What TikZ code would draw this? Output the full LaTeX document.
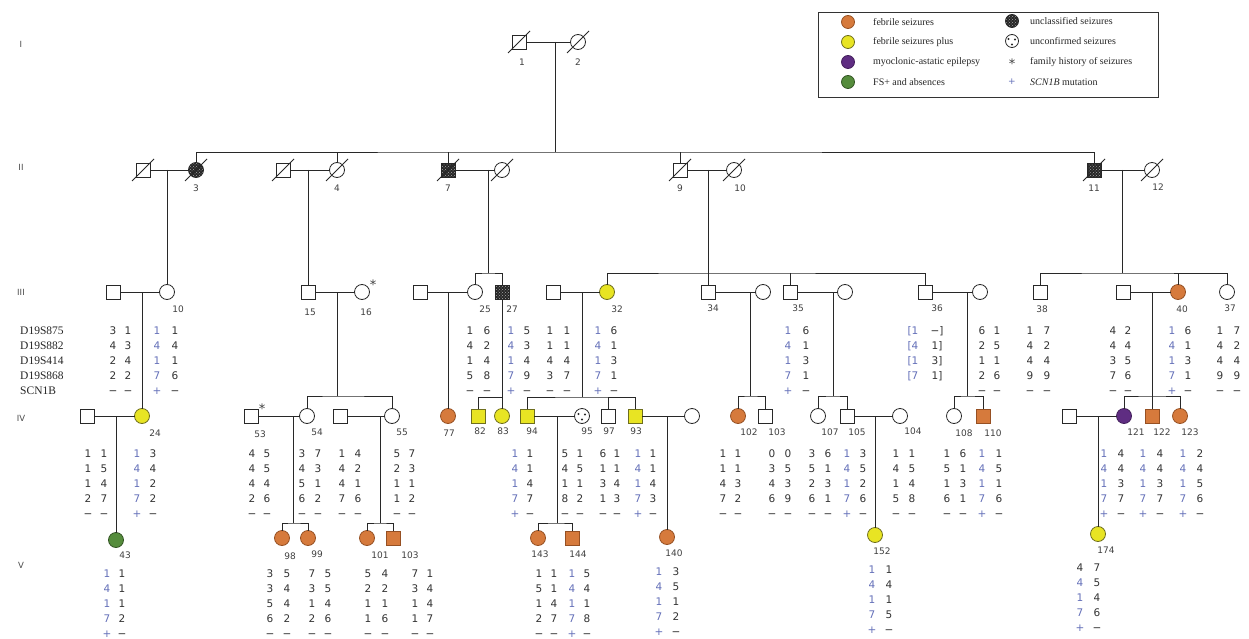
\documentclass[tikz,border=0pt]{standalone}
\usepackage{fontspec}
\setmainfont{Liberation Serif}
\newfontfamily\hapfont{DejaVu Sans}
\usetikzlibrary{patterns}
\definecolor{fsor}{RGB}{214,122,60}
\definecolor{fsord}{RGB}{150,80,35}
\definecolor{fspy}{RGB}{232,228,35}
\definecolor{fspyd}{RGB}{110,110,30}
\definecolor{maep}{RGB}{95,45,130}
\definecolor{fsag}{RGB}{85,140,60}
\definecolor{hapblue}{RGB}{100,112,185}
\definecolor{ink}{RGB}{40,40,40}
\newcommand\hc[5]{\foreach \v [count=\i] in {#5} {\node[#4] (#1-\i) at (#2,{#3+15*(\i-1)}) {\v};}}
\newcommand\dead[1]{\draw[lk] ([shift={(-11,11)}]#1.center) -- ([shift={(11,-11)}]#1.center);}
\begin{document}
\begin{tikzpicture}[x=1pt,y=-1pt,
  lk/.style={draw=ink, line width=0.8pt},
  ind/.style={draw=ink, line width=0.8pt, inner sep=0pt, outer sep=0pt, fill=white},
  male/.style={ind, rectangle, minimum size=14pt},
  female/.style={ind, circle, minimum size=15pt},
  fs/.style={fill=fsor, draw=fsord},
  fsp/.style={fill=fspy, draw=fspyd},
  mae/.style={fill=maep, draw=maep!70!black},
  fsab/.style={fill=fsag, draw=fsag!60!black},
  uncl/.style={preaction={fill=black!85}, pattern=crosshatch dots, pattern color=black!35},
  hap/.style={font=\hapfont\fontsize{10.5}{12}\selectfont, text=black!80, anchor=base, inner sep=0pt},
  hb/.style={hap, text=hapblue},
  idl/.style={font=\hapfont\fontsize{9}{11}\selectfont, text=black!75, anchor=base, inner sep=0pt},
  gen/.style={font=\hapfont\fontsize{8.5}{10}\selectfont, text=black!70, anchor=base, inner sep=0pt},
  mk/.style={font=\fontsize{11.5}{13}\selectfont, text=black!85, anchor=base west, inner sep=0pt},
  lt/.style={font=\fontsize{10}{12}\selectfont, text=black!85, anchor=west, inner sep=0pt},
  ast/.style={font=\hapfont\fontsize{13}{14}\selectfont, text=black!75, inner sep=0pt}]
\fill[white] (0,0) rectangle (1249,639);
\useasboundingbox (0,0) rectangle (1249,639);

% ---------- legend ----------
\node[draw=black!80, line width=0.9pt, minimum width=340pt, minimum height=85pt, inner sep=0pt] (legend) at (988,54.5) {};
\node[female, fs, minimum size=13pt] (L1) at (848,22) {};
\node[female, fsp, minimum size=13pt] (L2) at (848,42) {};
\node[female, mae, minimum size=13pt] (L3) at (848,62) {};
\node[female, fsab, minimum size=13pt] (L4) at (848,82) {};
\node[lt] (Lt1) at (873,22) {febrile seizures};
\node[lt] (Lt2) at (873,42) {febrile seizures plus};
\node[lt] (Lt3) at (873,62) {myoclonic-astatic epilepsy};
\node[lt] (Lt4) at (873,82) {FS+ and absences};
\node[female, uncl, minimum size=13pt] (L5) at (1012,21) {};
\node[female, minimum size=13pt] (L6) at (1012,41) {};
\fill[ink] (1008.5,39) circle (1.2) (1015,39.5) circle (1.2) (1012,44.5) circle (1.2);
\node[ast] (L7) at (1012,64) {*};
\node[font=\hapfont\fontsize{9}{10}\selectfont, text=hapblue, inner sep=0pt] (L8) at (1012,82) {+};
\node[lt] (Lt5) at (1030,21) {unclassified seizures};
\node[lt] (Lt6) at (1030,41) {unconfirmed seizures};
\node[lt] (Lt7) at (1030,62) {family history of seizures};
\node[lt] (Lt8) at (1030,82) {\textit{SCN1B} mutation};

% ---------- generation labels ----------
\node[gen] (gI) at (21,48) {I};
\node[gen] (gII) at (21,171) {II};
\node[gen] (gIII) at (21,295) {III};
\node[gen] (gIV) at (21,421) {IV};
\node[gen] (gV) at (21,568) {V};

% ---------- marker names ----------
\node[mk] (mk1) at (20,334) {D19S875};
\node[mk] (mk2) at (20,349) {D19S882};
\node[mk] (mk3) at (20,364) {D19S414};
\node[mk] (mk4) at (20,379) {D19S868};
\node[mk] (mk5) at (20,394) {SCN1B};

% ---------- generation I ----------
\node[male] (I1) at (519,42) {};
\node[female] (I2) at (578,42) {};
\dead{I1} \dead{I2}
\draw[lk] (I1) -- (I2);
\node[idl] (n1) at (522,66) {1};
\node[idl] (n2) at (578,66) {2};
\coordinate (m0) at (555,42);
\coordinate (s0) at (555,152);
\draw[lk] (m0) -- (s0);

% ---------- generation II ----------
\node[male] (IIa) at (143,170) {};
\node[female, uncl] (II3) at (196,170) {};
\node[male] (IIb) at (283,170) {};
\node[female] (II4) at (337,170) {};
\node[male, uncl] (II7) at (448,170) {};
\node[female] (IIc) at (502,170) {};
\node[male] (II9) at (680,170) {};
\node[female] (II10) at (734,170) {};
\node[male, uncl] (II11) at (1094,170) {};
\node[female] (II12) at (1152,170) {};
\foreach \n in {IIa,II3,IIb,II4,II7,IIc,II9,II10,II11,II12} {\dead{\n}}
\draw[lk] (IIa) -- (II3);
\draw[lk] (IIb) -- (II4);
\draw[lk] (II7) -- (IIc);
\draw[lk] (II9) -- (II10);
\draw[lk] (II11) -- (II12);
\draw[lk] (II3.north) |- (s0) -| (II11.north);
\foreach \n in {II4,II7,II9} {\draw[lk] (\n.north) -- (\n.north |- s0);}
\node[idl] (n3) at (196,192) {3};
\node[idl] (n4) at (337,192) {4};
\node[idl] (n7) at (448,192) {7};
\node[idl] (n9) at (680,192) {9};
\node[idl] (n10) at (740,192) {10};
\node[idl] (n11) at (1094,192) {11};
\node[idl] (n12) at (1158,190) {12};

% ---------- generation III ----------
\node[male] (IIIa) at (113,292) {};
\node[female] (III10) at (167,292) {};
\node[male] (III15) at (308,292) {};
\node[female] (III16) at (362,292) {};
\node[ast] (a16) at (373,285) {*};
\node[male] (IIIb) at (420,292) {};
\node[female] (III25) at (475,292) {};
\node[male, uncl] (III27) at (502,292) {};
\node[male] (IIIc) at (553,292) {};
\node[female, fsp] (III32) at (607,292) {};
\node[male] (III34) at (708,292) {};
\node[female] (IIId) at (763,292) {};
\node[male] (III35) at (790,292) {};
\node[female] (IIIe) at (845,292) {};
\node[male] (III36) at (925,292) {};
\node[female] (IIIf) at (980,292) {};
\node[male] (III38) at (1040,292) {};
\node[male] (IIIg) at (1123,292) {};
\node[female, fs] (III40) at (1178,292) {};
\node[female] (III37) at (1227,292) {};

\coordinate (m3) at (167,170);
\draw[lk] (m3) -- (III10.north);
\coordinate (m4) at (308,170);
\draw[lk] (m4) -- (III15.north);
\coordinate (m7) at (488,170);
\coordinate (s7) at (488,273);
\draw[lk] (m7) -- (s7);
\draw[lk] (III25.north) |- (s7) -| (III27.north);
\coordinate (m9) at (708,170);
\coordinate (s9) at (708,273);
\draw[lk] (m9) -- (III34.north);
\draw[lk] (III32.north) |- (s9) -| (III36.north);
\draw[lk] (III35.north) -- (III35.north |- s9);
\coordinate (m11) at (1122,170);
\coordinate (s11) at (1122,273);
\draw[lk] (m11) -- (s11);
\draw[lk] (III38.north) |- (s11) -| (III37.north);
\draw[lk] (III40.north) -- (III40.north |- s11);

\draw[lk] (IIIa) -- (III10);
\draw[lk] (III15) -- (III16);
\draw[lk] (IIIb) -- (III25);
\draw[lk] (IIIc) -- (III32);
\draw[lk] (III34) -- (IIId);
\draw[lk] (III35) -- (IIIe);
\draw[lk] (III36) -- (IIIf);
\draw[lk] (IIIg) -- (III40);

\node[idl] (n10b) at (178,312) {10};
\node[idl] (n15) at (310,315) {15};
\node[idl] (n16) at (366,315) {16};
\node[idl] (n25) at (485,312) {25};
\node[idl] (n27) at (512,312) {27};
\node[idl] (n32) at (617,312) {32};
\node[idl] (n34) at (713,311) {34};
\node[idl] (n35) at (798,311) {35};
\node[idl] (n36) at (937,311) {36};
\node[idl] (n38) at (1042,312) {38};
\node[idl] (n40) at (1182,312) {40};
\node[idl] (n37) at (1230,311) {37};

% haplotypes III
\hc{hIIIa1}{113}{334}{hap}{3,4,2,2,−}
\hc{hIIIa2}{128}{334}{hap}{1,3,4,2,−}
\hc{h10a}{157}{334}{hb}{1,4,1,7,+}
\hc{h10b}{175}{334}{hap}{1,4,1,6,−}
\hc{h25a}{470}{334}{hap}{1,4,1,5,−}
\hc{h25b}{487}{334}{hap}{6,2,4,8,−}
\hc{h27a}{511}{334}{hb}{1,4,1,7,+}
\hc{h27b}{527}{334}{hap}{5,3,4,9,−}
\hc{hIIIc1}{550}{334}{hap}{1,1,4,3,−}
\hc{hIIIc2}{567}{334}{hap}{1,1,4,7,−}
\hc{h32a}{598}{334}{hb}{1,4,1,7,+}
\hc{h32b}{614}{334}{hap}{6,1,3,1,−}
\hc{h35a}{788}{334}{hb}{1,4,1,7,+}
\hc{h35b}{806}{334}{hap}{6,1,3,1,−}
\hc{h36a}{913}{334}{hb}{{[1},{[4},{[1},{[7}}
\hc{h36b}{937}{334}{hap}{{−]},{1]},{3]},{1]}}
\hc{hIIIf1}{982}{334}{hap}{6,2,1,2,−}
\hc{hIIIf2}{997}{334}{hap}{1,5,1,6,−}
\hc{h38a}{1030}{334}{hap}{1,4,4,9,−}
\hc{h38b}{1047}{334}{hap}{7,2,4,9,−}
\hc{hIIIg1}{1113}{334}{hap}{4,4,3,7,−}
\hc{hIIIg2}{1128}{334}{hap}{2,4,5,6,−}
\hc{h40a}{1172}{334}{hb}{1,4,1,7,+}
\hc{h40b}{1188}{334}{hap}{6,1,3,1,−}
\hc{h37a}{1220}{334}{hap}{1,4,4,9,−}
\hc{h37b}{1237}{334}{hap}{7,2,4,9,−}

% ---------- generation IV ----------
\node[male] (IVa) at (87,416) {};
\node[female, fsp] (IV24) at (142,416) {};
\node[male] (IV53) at (251,416) {};
\node[ast] (a53) at (262,409) {*};
\node[female] (IV54) at (307,416) {};
\node[male] (IVb) at (340,416) {};
\node[female] (IV55) at (392,416) {};
\node[female, fs] (IV77) at (448,416) {};
\node[male, fsp] (IV82) at (478,416) {};
\node[female, fsp] (IV83) at (502,416) {};
\node[male, fsp] (IV94) at (527,416) {};
\node[female] (IV95) at (582,416) {};
\fill[ink] (578.5,414) circle (1.2) (585,414.5) circle (1.2) (582,419.5) circle (1.2);
\node[male] (IV97) at (608,416) {};
\node[male, fsp] (IV93) at (635,416) {};
\node[female] (IVc) at (692,416) {};
\node[female, fs] (IV102) at (738,416) {};
\node[male] (IV103) at (765,416) {};
\node[female] (IV107) at (818,416) {};
\node[male] (IV105) at (847,416) {};
\node[female] (IV104) at (900,416) {};
\node[female] (IV108) at (954,416) {};
\node[male, fs] (IV110) at (983,416) {};
\node[male] (IVe) at (1069,416) {};
\node[female, mae] (IV121) at (1124,416) {};
\node[male, fs] (IV122) at (1152,416) {};
\node[female, fs] (IV123) at (1180,416) {};

\coordinate (mA) at (142,292);
\draw[lk] (mA) -- (IV24.north);
\coordinate (m15) at (337,292);
\coordinate (s15) at (337,396);
\draw[lk] (m15) -- (s15);
\draw[lk] (IV54.north) |- (s15) -| (IV55.north);
\coordinate (mB) at (448,292);
\draw[lk] (mB) -- (IV77.north);
\coordinate (s27) at (502,397);
\draw[lk] (III27.south) -- (IV83.north);
\draw[lk] (IV82.north) |- (s27);
\coordinate (mC) at (582,292);
\coordinate (s32) at (582,397);
\draw[lk] (mC) -- (s32);
\draw[lk] (IV94.north) |- (s32) -| (IV93.north);
\draw[lk] (IV97.north) -- (IV97.north |- s32);
\coordinate (m34) at (750,292);
\coordinate (s34) at (750,396);
\draw[lk] (m34) -- (s34);
\draw[lk] (IV102.north) |- (s34) -| (IV103.north);
\coordinate (m35) at (833,292);
\coordinate (s35) at (833,396);
\draw[lk] (m35) -- (s35);
\draw[lk] (IV107.north) |- (s35) -| (IV105.north);
\coordinate (m36) at (967,292);
\coordinate (s36) at (967,396);
\draw[lk] (m36) -- (s36);
\draw[lk] (IV108.north) |- (s36) -| (IV110.north);
\coordinate (m40) at (1152,292);
\coordinate (s40) at (1152,396);
\draw[lk] (m40) -- (IV122.north);
\draw[lk] (IV121.north) |- (s40) -| (IV123.north);

\draw[lk] (IVa) -- (IV24);
\draw[lk] (IV53) -- (IV54);
\draw[lk] (IVb) -- (IV55);
\draw[lk] (IV94) -- (IV95);
\draw[lk] (IV93) -- (IVc);
\draw[lk] (IV105) -- (IV104);
\draw[lk] (IVe) -- (IV121);

\node[idl] (n24) at (155,436) {24};
\node[idl] (n53) at (260,437) {53};
\node[idl] (n54) at (317,435) {54};
\node[idl] (n55) at (402,435) {55};
\node[idl] (n77) at (449,436) {77};
\node[idl] (n82) at (480,434) {82};
\node[idl] (n83) at (503,434) {83};
\node[idl] (n94) at (532,434) {94};
\node[idl] (n95) at (587,434) {95};
\node[idl] (n97) at (609,434) {97};
\node[idl] (n93) at (636,434) {93};
\node[idl] (n102) at (749,435) {102};
\node[idl] (n103) at (777,435) {103};
\node[idl] (n107) at (830,435) {107};
\node[idl] (n105) at (857,435) {105};
\node[idl] (n104) at (913,434) {104};
\node[idl] (n108) at (964,436) {108};
\node[idl] (n110) at (993,436) {110};
\node[idl] (n121) at (1136,435) {121};
\node[idl] (n122) at (1162,435) {122};
\node[idl] (n123) at (1190,435) {123};

% haplotypes IV
\hc{hIVa1}{88}{457}{hap}{1,1,1,2,−}
\hc{hIVa2}{104}{457}{hap}{1,5,4,7,−}
\hc{h24a}{137}{457}{hb}{1,4,1,7,+}
\hc{h24b}{153}{457}{hap}{3,4,2,2,−}
\hc{h53a}{252}{457}{hap}{4,4,4,2,−}
\hc{h53b}{267}{457}{hap}{5,5,4,6,−}
\hc{h54a}{302}{457}{hap}{3,4,5,6,−}
\hc{h54b}{318}{457}{hap}{7,3,1,2,−}
\hc{hIVb1}{342}{457}{hap}{1,4,4,7,−}
\hc{hIVb2}{358}{457}{hap}{4,2,1,6,−}
\hc{h55a}{397}{457}{hap}{5,2,1,1,−}
\hc{h55b}{412}{457}{hap}{7,3,1,2,−}
\hc{h94a}{515}{457}{hb}{1,4,1,7,+}
\hc{h94b}{530}{457}{hap}{1,1,4,7,−}
\hc{h95a}{565}{457}{hap}{5,4,1,8,−}
\hc{h95b}{580}{457}{hap}{1,5,1,2,−}
\hc{h97a}{603}{457}{hap}{6,1,3,1,−}
\hc{h97b}{617}{457}{hap}{1,1,4,3,−}
\hc{h93a}{638}{457}{hb}{1,4,1,7,+}
\hc{h93b}{653}{457}{hap}{1,1,4,3,−}
\hc{h102a}{723}{457}{hap}{1,1,4,7,−}
\hc{h102b}{738}{457}{hap}{1,1,3,2,−}
\hc{h103a}{772}{457}{hap}{0,3,4,6,−}
\hc{h103b}{788}{457}{hap}{0,5,3,9,−}
\hc{h107a}{812}{457}{hap}{3,5,2,6,−}
\hc{h107b}{828}{457}{hap}{6,1,3,1,−}
\hc{h105a}{847}{457}{hb}{1,4,1,7,+}
\hc{h105b}{863}{457}{hap}{3,5,2,6,−}
\hc{h104a}{896}{457}{hap}{1,4,1,5,−}
\hc{h104b}{912}{457}{hap}{1,5,4,8,−}
\hc{h108a}{947}{457}{hap}{1,5,1,6,−}
\hc{h108b}{963}{457}{hap}{6,1,3,1,−}
\hc{h110a}{982}{457}{hb}{1,4,1,7,+}
\hc{h110b}{999}{457}{hap}{1,5,1,6,−}
\hc{h121a}{1104}{457}{hb}{1,4,1,7,+}
\hc{h121b}{1121}{457}{hap}{4,4,3,7,−}
\hc{h122a}{1143}{457}{hb}{1,4,1,7,+}
\hc{h122b}{1160}{457}{hap}{4,4,3,7,−}
\hc{h123a}{1183}{457}{hb}{1,4,1,7,+}
\hc{h123b}{1200}{457}{hap}{2,4,5,6,−}

% ---------- generation V ----------
\node[female, fsab] (V43) at (116,540) {};
\node[female, fs] (V98) at (282,538) {};
\node[female, fs] (V99) at (308,538) {};
\node[female, fs] (V101) at (367,538) {};
\node[male, fs] (V103) at (393,538) {};
\node[female, fs] (V143) at (538,538) {};
\node[male, fs] (V144) at (572,538) {};
\node[female, fs] (V140) at (667,537) {};
\node[female, fsp] (V152) at (875,535) {};
\node[female, fsp] (V174) at (1098,534) {};

\coordinate (mD) at (116,416);
\draw[lk] (mD) -- (V43.north);
\coordinate (m53) at (293,416);
\coordinate (s53) at (293,523);
\draw[lk] (m53) -- (s53);
\draw[lk] (V98.north) |- (s53) -| (V99.north);
\coordinate (m55) at (380,416);
\coordinate (s55) at (380,523);
\draw[lk] (m55) -- (s55);
\draw[lk] (V101.north) |- (s55) -| (V103.north);
\coordinate (m94) at (557,416);
\coordinate (s94) at (557,523);
\draw[lk] (m94) -- (s94);
\draw[lk] (V143.north) |- (s94) -| (V144.north);
\coordinate (m93) at (667,416);
\draw[lk] (m93) -- (V140.north);
\coordinate (m105) at (875,416);
\draw[lk] (m105) -- (V152.north);
\coordinate (mE) at (1098,416);
\draw[lk] (mE) -- (V174.north);

\node[idl] (n43) at (125,558) {43};
\node[idl] (n98) at (290,559) {98};
\node[idl] (n99) at (317,557) {99};
\node[idl] (n101) at (380,558) {101};
\node[idl] (n103b) at (410,558) {103};
\node[idl] (n143) at (540,557) {143};
\node[idl] (n144) at (578,557) {144};
\node[idl] (n140) at (674,556) {140};
\node[idl] (n152) at (882,554) {152};
\node[idl] (n174) at (1106,553) {174};

% haplotypes V
\hc{h43a}{107}{577}{hb}{1,4,1,7,+}
\hc{h43b}{122}{577}{hap}{1,1,1,2,−}
\hc{h98a}{270}{577}{hap}{3,3,5,6,−}
\hc{h98b}{287}{577}{hap}{5,4,4,2,−}
\hc{h99a}{312}{577}{hap}{7,3,1,2,−}
\hc{h99b}{328}{577}{hap}{5,5,4,6,−}
\hc{h101a}{368}{577}{hap}{5,2,1,1,−}
\hc{h101b}{385}{577}{hap}{4,2,1,6,−}
\hc{h103Va}{415}{577}{hap}{7,3,1,1,−}
\hc{h103Vb}{430}{577}{hap}{1,4,4,7,−}
\hc{h143a}{539}{577}{hap}{1,5,1,2,−}
\hc{h143b}{554}{577}{hap}{1,1,4,7,−}
\hc{h144a}{572}{577}{hb}{1,4,1,7,+}
\hc{h144b}{587}{577}{hap}{5,4,1,8,−}
\hc{h140a}{659}{575}{hb}{1,4,1,7,+}
\hc{h140b}{676}{575}{hap}{3,5,1,2,−}
\hc{h152a}{872}{573}{hb}{1,4,1,7,+}
\hc{h152b}{889}{573}{hap}{1,4,1,5,−}
\node[hap] (h174top) at (1080,571) {4};
\hc{h174a}{1080}{586}{hb}{4,1,7,+}
\hc{h174b}{1097}{571}{hap}{7,5,4,6,−}
\end{tikzpicture}
\end{document}
